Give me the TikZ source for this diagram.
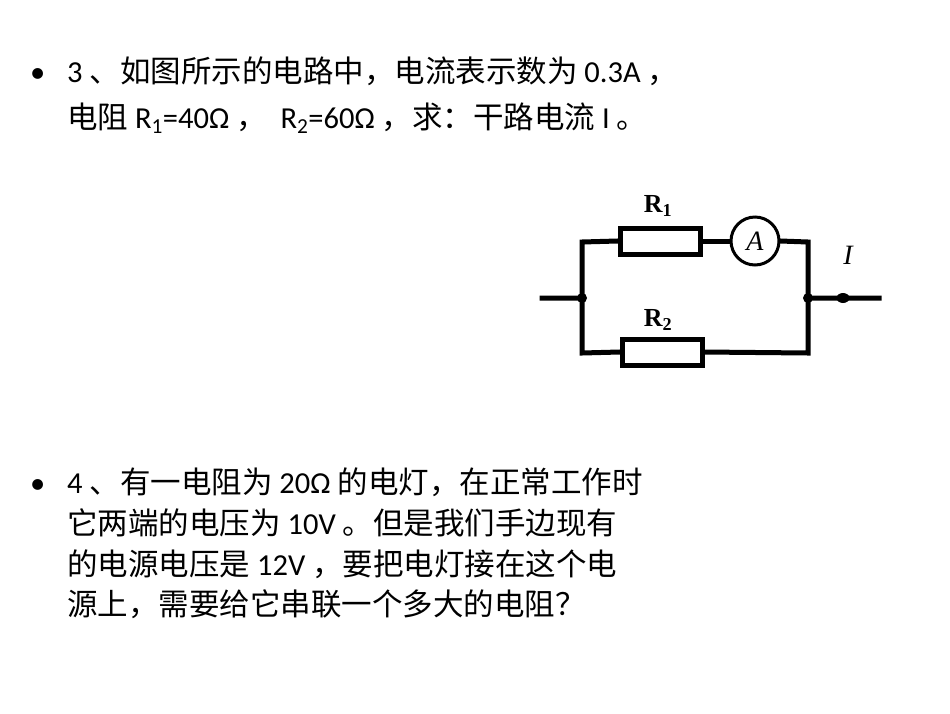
\documentclass[tikz,border=0pt]{standalone}
\usetikzlibrary{shapes.geometric}
\usepackage{fontspec}
\setmainfont{Noto Sans CJK SC}
\newfontfamily\latf{Carlito}
\newcommand\lat[1]{{\latf #1}}
\newfontfamily\ser{Liberation Serif}
\begin{document}
\begin{tikzpicture}[x=1pt,y=-1pt,
  txt/.style={anchor=base west,inner sep=0pt,font=\fontsize{30.5}{30.5}\selectfont},
  wire/.style={line width=5pt,line cap=rect},
  res/.style={draw,line width=5pt,fill=white,minimum width=80pt,minimum height=26pt,inner sep=0pt},
  lab/.style={font=\ser\bfseries\fontsize{26}{26}\selectfont,inner sep=0pt}]
\useasboundingbox (0,0) rectangle (950,713);
\node[txt] (b1) at (30,82) {\lat{•}};
\node[txt] (l1) at (67,82) {\lat{3 }、如图所示的电路中，电流表示数为\lat{ 0.3A }，};
\node[txt] (l2) at (67,128) {电阻\lat{ R\textsubscript{1}=40Ω }，\lat{ \ R\textsubscript{2}=60Ω }，求：干路电流\lat{ I }。};
\node[txt] (b2) at (30,493) {\lat{•}};
\node[txt] (m1) at (67,493) {\lat{4 }、有一电阻为\lat{ 20Ω }的电灯，在正常工作时};
\node[txt] (m2) at (67,534) {它两端的电压为\lat{ 10V }。但是我们手边现有};
\node[txt] (m3) at (67,575) {的电源电压是\lat{ 12V }，要把电灯接在这个电};
\node[txt] (m4) at (67,615) {源上，需要给它串联一个多大的电阻？};
% circuit
\coordinate (in) at (542,298);
\coordinate (jl) at (582,298);
\coordinate (jr) at (808,298);
\coordinate (out) at (879,298);
\coordinate (tl) at (582,242);
\coordinate (tr) at (808,242);
\coordinate (bl) at (582,353);
\coordinate (br) at (808,353);
\node[res] (r1) at (660,241) {};
\node[draw,circle,line width=3pt,minimum size=48pt,inner sep=0pt,font=\ser\itshape\fontsize{28}{28}\selectfont] (am) at (755,241) {A};
\node[res] (r2) at (662,352) {};
\draw[wire] (in) -- (jl) -- (tl) -- (r1.west);
\draw[wire] (r1.east) -- (am.west);
\draw[wire] (am.east) -- (tr) -- (jr) -- (out);
\draw[wire] (jl) -- (bl) -- (r2.west);
\draw[wire] (r2.east) -- (br) -- (jr);
\fill (jl) circle (5pt) (jr) circle (5pt);
\node[fill,ellipse,minimum width=13pt,minimum height=10pt,inner sep=0pt] (d) at (843,298) {};
\node[lab] (lr1) at (658,206) {R\textsubscript{1}};
\node[lab] (lr2) at (658,320) {R\textsubscript{2}};
\node[lab,font=\ser\itshape\fontsize{28}{28}\selectfont] (li) at (848,255) {I};
\end{tikzpicture}
\end{document}
